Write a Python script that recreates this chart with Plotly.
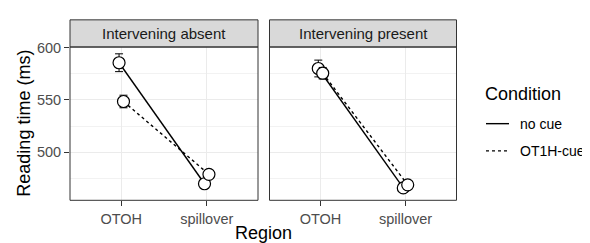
import plotly.graph_objects as go

regions = ["OTOH", "spillover"]
panels = ["Intervening absent", "Intervening present"]
conditions = ["no cue", "OT1H-cue"]

# mean reading times [panel][condition][region]
means = {
    "Intervening absent": {"no cue": [585.5, 470.0], "OT1H-cue": [548.5, 479.0]},
    "Intervening present": {"no cue": [580.0, 466.0], "OT1H-cue": [575.5, 469.0]},
}
errors = {
    "Intervening absent": {"no cue": [8.5, 4.0], "OT1H-cue": [6.0, 4.0]},
    "Intervening present": {"no cue": [8.0, 4.0], "OT1H-cue": [5.5, 4.0]},
}
y_ticks = [500, 550, 600]
minor_ticks = [475, 525, 575]

# compensate for the default 8px page margin around the figure
OFFX, OFFY = 8, 8
W, H = 590 - OFFX, 243 - OFFY
FONT = "Liberation Sans, Arial, sans-serif"
dashes = {"no cue": "solid", "OT1H-cue": "3px,3px"}
dodge = {"no cue": -0.026, "OT1H-cue": 0.026}


def X(px):
    return (px - OFFX) / W


def Y(py):
    return 1 - (py - OFFY) / H


fig = go.Figure()

px_x = [(70, 258), (269.5, 456.5)]
y_top, y_bot = 41, 199
strip_top = 13

for pi, panel in enumerate(panels):
    xa = "x" if pi == 0 else "x2"
    ya = "y" if pi == 0 else "y2"
    for cond in conditions:
        xs = [i + 1 + dodge[cond] for i in range(len(regions))]
        fig.add_trace(go.Scatter(
            x=xs, y=means[panel][cond], xaxis=xa, yaxis=ya,
            mode="lines+markers",
            line=dict(color="black", width=1.4, dash=dashes[cond]),
            marker=dict(size=12, color="white", line=dict(color="black", width=1.2)),
            error_y=dict(type="data", array=errors[panel][cond], color="black",
                         thickness=1, width=4),
            showlegend=False, hoverinfo="skip"))

ydom = [Y(y_bot), Y(y_top)]
grid_common = dict(gridcolor="#EBEBEB", gridwidth=1.1, zeroline=False, showline=False)
tickfont = dict(size=14.5, color="#4D4D4D", family=FONT)
for pi in range(2):
    sfx = "" if pi == 0 else "2"
    fig.update_layout(**{
        "xaxis" + sfx: dict(domain=[X(px_x[pi][0]), X(px_x[pi][1])], range=[0.4, 2.6],
                            tickvals=[1, 2], ticktext=regions, anchor="y" + sfx,
                            ticks="outside", ticklen=5, tickcolor="#333333", tickwidth=1,
                            tickfont=tickfont, **grid_common),
        "yaxis" + sfx: dict(domain=ydom, range=[454.2, 600.5],
                            tickvals=y_ticks, anchor="x" + sfx,
                            showticklabels=(pi == 0),
                            ticks="outside" if pi == 0 else "", ticklen=5,
                            tickcolor="#333333", tickwidth=1, tickfont=tickfont,
                            minor=dict(tickvals=minor_ticks, showgrid=True,
                                       gridcolor="#F2F2F2", gridwidth=0.7, ticks=""),
                            **grid_common),
    })

shapes = []
annotations = []
for pi, panel in enumerate(panels):
    x0, x1 = px_x[pi]
    shapes.append(dict(type="rect", xref="paper", yref="paper",
                       x0=X(x0), x1=X(x1), y0=Y(y_top), y1=Y(strip_top),
                       fillcolor="#D9D9D9", line=dict(color="#333333", width=1)))
    shapes.append(dict(type="rect", xref="paper", yref="paper",
                       x0=X(x0), x1=X(x1), y0=Y(y_bot), y1=Y(y_top),
                       fillcolor="rgba(0,0,0,0)", line=dict(color="#333333", width=1)))
    annotations.append(dict(text=panel, xref="paper", yref="paper",
                            x=X((x0 + x1) / 2), y=Y((strip_top + y_top) / 2),
                            showarrow=False, xanchor="center", yanchor="middle",
                            font=dict(size=15, color="#1A1A1A", family=FONT)))

annotations.append(dict(text="Reading time (ms)", xref="paper", yref="paper",
                        x=X(24), y=Y((y_top + y_bot) / 2), textangle=-90,
                        showarrow=False, xanchor="center", yanchor="middle",
                        font=dict(size=18, color="black", family=FONT)))
annotations.append(dict(text="Region", xref="paper", yref="paper",
                        x=X(263), y=Y(233), showarrow=False,
                        xanchor="center", yanchor="middle",
                        font=dict(size=18, color="black", family=FONT)))

# legend (drawn manually to match ggplot key sizes)
annotations.append(dict(text="Condition", xref="paper", yref="paper",
                        x=X(483), y=Y(89), showarrow=False,
                        xanchor="left", yanchor="middle",
                        font=dict(size=18, color="black", family=FONT)))
leg_y = {"no cue": 120, "OT1H-cue": 148}
for cond in conditions:
    shapes.append(dict(type="line", xref="paper", yref="paper",
                       x0=X(486), x1=X(509), y0=Y(leg_y[cond]), y1=Y(leg_y[cond]),
                       line=dict(color="black", width=1.4, dash=dashes[cond])))
    annotations.append(dict(text=cond, xref="paper", yref="paper",
                            x=X(518), y=Y(leg_y[cond]), showarrow=False,
                            xanchor="left", yanchor="middle",
                            font=dict(size=14, color="black", family=FONT)))

fig.update_layout(
    width=W, height=H, margin=dict(l=0, r=0, t=0, b=0),
    plot_bgcolor="white", paper_bgcolor="white",
    shapes=shapes, annotations=annotations, showlegend=False,
)

fig.write_html("out.html")
